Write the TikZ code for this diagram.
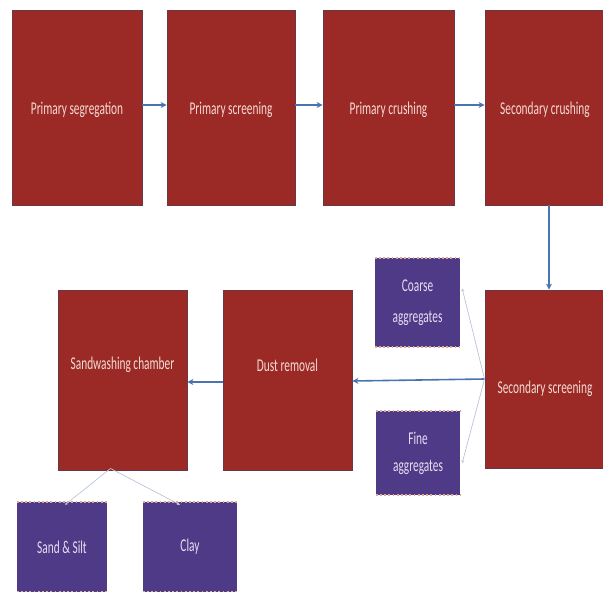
\documentclass[tikz,border=0pt]{standalone}
\usepackage{fontspec}
\setmainfont{Carlito}
\usetikzlibrary{arrows.meta,calc}
\definecolor{boxred}{RGB}{155,42,38}
\definecolor{boxedge}{RGB}{105,55,70}
\definecolor{boxpurple}{RGB}{78,58,134}
\definecolor{redtext}{RGB}{246,218,212}
\definecolor{purptext}{RGB}{228,222,242}
\definecolor{flow}{RGB}{74,116,176}
\definecolor{faint}{RGB}{185,196,216}
\definecolor{scallop}{RGB}{222,170,150}
\newcommand{\sqz}[1]{\scalebox{0.63}[1]{#1}}
\tikzset{
  redbox/.style={rectangle, fill=boxred, draw=boxedge, line width=0.9pt,
    inner sep=0pt},
  redtxt/.style={text=redtext, font=\fontsize{18}{21}\selectfont, inner sep=0pt},
  purpbox/.style={rectangle, fill=boxpurple, draw=none,
    text=purptext, font=\fontsize{18}{21}\selectfont, inner sep=0pt, align=center},
  flowarrow/.style={draw=flow, line width=1.6pt, -{Stealth[length=6pt,width=6pt]}},
  thinlink/.style={draw=faint, line width=0.7pt, -{Stealth[length=3pt,width=3pt]}},
  edgedots/.style={draw=scallop, line width=1.8pt, dash pattern=on 1.8pt off 2.4pt}
}
\begin{document}
\begin{tikzpicture}[x=1pt,y=-1pt]
\useasboundingbox (0,0) rectangle (603,592);
% top row
\node[redbox, minimum width=130, minimum height=195,
  label={[redtxt,yshift=-2pt]center:\sqz{Primary segregation}}] (ps) at (77,107.5) {};
\node[redbox, minimum width=128, minimum height=195,
  label={[redtxt,yshift=-2pt]center:\sqz{Primary screening}}] (psc) at (231,107.5) {};
\node[redbox, minimum width=131, minimum height=195,
  label={[redtxt,yshift=-2pt]center:\sqz{Primary crushing}}] (pc) at (388.5,107.5) {};
\node[redbox, minimum width=120, minimum height=195,
  label={[redtxt,yshift=-2pt]center:\sqz{Secondary crushing}}] (sc) at (545,107.5) {};
% middle row
\node[redbox, minimum width=120, minimum height=178,
  label={[redtxt,yshift=-10pt]center:\sqz{Secondary screening}}] (ss) at (545,379) {};
\node[redbox, minimum width=129, minimum height=180,
  label={[redtxt,yshift=15pt]center:\sqz{Dust removal}}] (dr) at (287.5,380) {};
\node[redbox, minimum width=129, minimum height=180,
  label={[redtxt,yshift=15pt]center:\sqz{Sandwashing chamber}}] (sw) at (122.5,380) {};
% purple boxes
\node[purpbox, minimum width=85, minimum height=89] (ca) at (417.5,302.5) {\sqz{Coarse}\\[10pt]\sqz{aggregates}};
\node[purpbox, minimum width=84, minimum height=84] (fa) at (418,453) {\sqz{Fine}\\[6pt]\sqz{aggregates}};
\node[purpbox, minimum width=90, minimum height=90] (sand) at (62,547) {\sqz{Sand \& Silt}};
\node[purpbox, minimum width=94, minimum height=90] (clay) at (190,547) {\sqz{Clay}};
% scalloped edges on purple boxes
\foreach \b in {ca,fa,sand,clay}{
  \draw[edgedots] (\b.north west) -- (\b.north east);
  \draw[edgedots] (\b.south west) -- (\b.south east);
}
% flow arrows
\draw[flowarrow] ([yshift=2.5]ps.east) -- ([yshift=2.5]psc.west);
\draw[flowarrow] ([yshift=2.5]psc.east) -- ([yshift=2.5]pc.west);
\draw[flowarrow] ([yshift=2.5]pc.east) -- ([yshift=2.5]sc.west);
\draw[flowarrow] ([xshift=4]sc.south) -- ([xshift=4]ss.north);
\draw[flowarrow] (ss.west) -- ([yshift=-1]dr.east);
\draw[flowarrow] ([yshift=-2]dr.west) -- ([yshift=-2]sw.east);
% faint links
\coordinate (ssj) at (ss.west);
\draw[thinlink] (ssj) -- ([xshift=2,yshift=14]ca.east);
\draw[thinlink] (ssj) -- ([xshift=2,yshift=-10]fa.east);
\coordinate (swj) at ([xshift=-12,yshift=2]sw.south);
\draw[thinlink] (swj) -- ([xshift=3,yshift=-3]sand.north);
\draw[thinlink] (swj) -- ([xshift=-10,yshift=-3]clay.north);
\end{tikzpicture}
\end{document}
